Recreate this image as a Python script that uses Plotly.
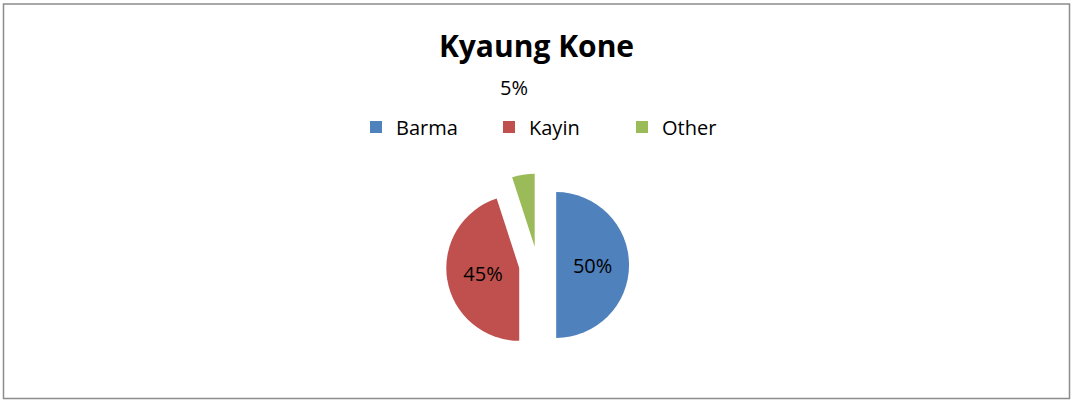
import plotly.graph_objects as go

categories = ["Barma", "Kayin", "Other"]
values = [50, 45, 5]
colors = ["#4F81BD", "#C0504D", "#9BBB59"]
title_text = "Kyaung Kone"

W, H = 1073, 401
FONT = "Open Sans"

total = sum(values)
pct = [f"{round(v / total * 100)}%" for v in values]
# inside labels for the big slices, the small slice label is placed above
texts = [pct[0], pct[1], ""]

fig = go.Figure()
fig.add_trace(go.Pie(
    labels=categories,
    values=values,
    sort=False,
    direction="clockwise",
    rotation=0,
    pull=[0.255, 0.255, 0.255],
    marker=dict(colors=colors, line=dict(width=0)),
    text=texts,
    textinfo="text",
    textposition="inside",
    insidetextorientation="horizontal",
    insidetextfont=dict(family=FONT, size=20, color="black"),
    domain=dict(x=[0.002, 1.0], y=[(H - 356.5) / H, (H - 173.5) / H]),
    hoverinfo="label+percent",
))

fig.add_annotation(
    text=pct[2], x=514 / W, y=1 - 87 / H, xref="paper", yref="paper",
    showarrow=False, font=dict(family=FONT, size=20, color="black"),
    xanchor="center", yanchor="middle",
)

fig.add_shape(
    type="rect", xref="paper", yref="paper",
    x0=3.5 / W, x1=1069.5 / W, y0=1 - 398.5 / H, y1=1 - 4 / H,
    line=dict(color="#8c8c8c", width=1.5),
)

fig.update_layout(
    width=W, height=H,
    margin=dict(l=0, r=0, t=0, b=0),
    paper_bgcolor="white",
    plot_bgcolor="white",
    font=dict(family=FONT, color="black"),
    title=dict(
        text=f"<b>{title_text}</b>", x=0.5, xanchor="center",
        y=1 - 46 / H, yanchor="middle", yref="paper",
        font=dict(family=FONT, size=30, color="black"),
    ),
    legend=dict(
        orientation="h", x=0.5 + 19 / W, xanchor="center", y=1 - 127 / H, yanchor="middle",
        font=dict(family=FONT, size=20, color="black"),
        entrywidth=88, itemwidth=30,
    ),
)

fig.write_html(
    "out.html",
    config={"displayModeBar": False},
    post_script="document.body.style.margin='0';",
)
